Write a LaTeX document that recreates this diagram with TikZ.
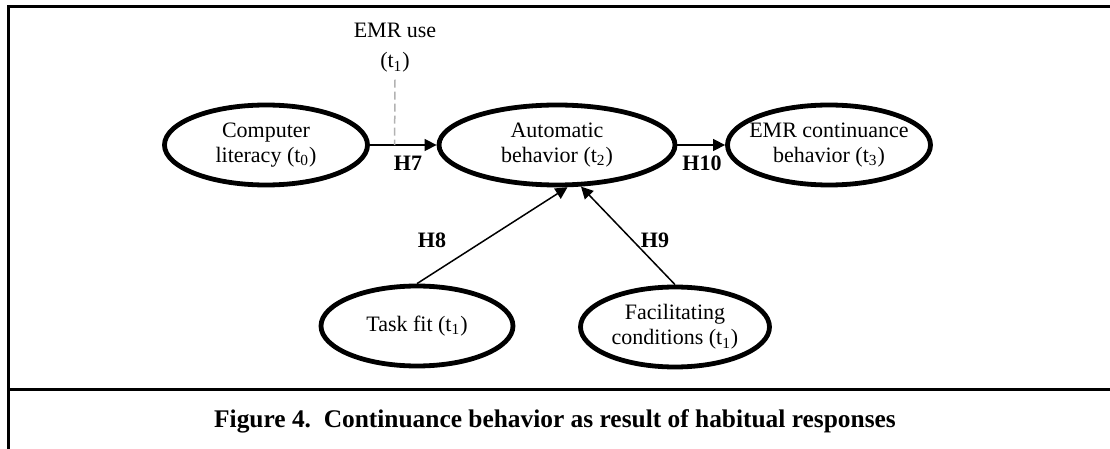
\documentclass[tikz,border=0pt]{standalone}
\usepackage{fontspec}
\setmainfont{Liberation Serif}
\usepackage{tikz}
\usetikzlibrary{shapes.geometric}
\usetikzlibrary{arrows.meta}

\tikzset{
    construct/.style={draw, ellipse, line width=2.4pt, inner sep=0pt, minimum width=101.5pt, minimum height=40pt},
    inside/.style={align=center, font=\fontsize{11}{12.5}\selectfont},
    path/.style={line width=0.75pt, -{Triangle[length=6pt,width=6pt]}},
    hyp/.style={font=\fontsize{11}{13}\selectfont\bfseries},
}

\begin{document}
\begin{tikzpicture}[x=0.5pt,y=-0.5pt]

        \useasboundingbox (0,0) rectangle (1110,449);

        % frame round the figure and the caption row
        \draw[line width=1.5pt] (1110,7) -- (8,7) -- (8,449);
        \draw[line width=1.5pt] (8,389) -- (1110,389);

        % ellipses keep their size, the text sits in a centre label
        \node[construct, label={[inside]center:Computer\\literacy (t\textsubscript{0})}] (lit) at (266,145) {};
        \node[construct, minimum width=118pt, label={[inside]center:Automatic\\behavior (t\textsubscript{2})}] (auto) at (557,145) {};
        \node[construct, label={[inside]center:EMR continuance\\behavior (t\textsubscript{3})}] (cont) at (829,145) {};
        \node[construct, minimum width=96pt, label={[inside]center:Task fit (t\textsubscript{1})}] (task) at (417,326) {};
        \node[construct, minimum width=94.5pt, label={[inside]center:Facilitating\\conditions (t\textsubscript{1})}] (fac) at (675,327) {};

        \node[align=center, font=\fontsize{11}{15}\selectfont] (use) at (395,48) {EMR use\\(t\textsubscript{1})};

        \draw[path] (lit) -- coordinate[pos=0.37] (mod) (auto);
        \draw[path] (auto) -- (cont);
        \draw[path] (task.north) -- (auto.-76);
        \draw[path] (fac.north) -- (auto.-60);

        % moderator hooks onto H7
        \draw[gray!60, line width=0.75pt, dash pattern=on 4pt off 2pt] (use.south) -- (mod);

        \node[hyp] (h7) at (408,163) {H7};
        \node[hyp] (h10) at (702,163) {H10};
        \node[hyp] (h8) at (432,240) {H8};
        \node[hyp] (h9) at (655,240) {H9};

        \node[font=\fontsize{12.7}{15}\selectfont\bfseries] (caption) at (555,421) {Figure 4.\ \ Continuance behavior as result of habitual responses};

    \end{tikzpicture}
\end{document}
